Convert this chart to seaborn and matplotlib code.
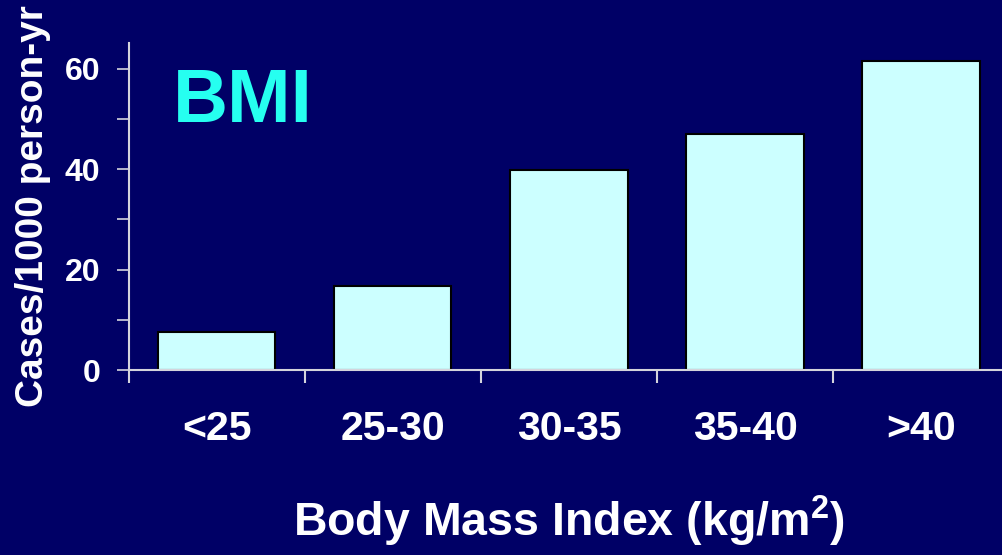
import matplotlib
matplotlib.use("Agg")
import matplotlib.pyplot as plt
from matplotlib.ticker import FixedLocator, MultipleLocator
import numpy as np
import pandas as pd
import seaborn as sns

# Incidence by BMI category
categories = ["<25", "25-30", "30-35", "35-40", ">40"]
rates = [7.5, 16.8, 39.8, 47.0, 61.6]
y_ticks = [0, 20, 40, 60]

navy = "#000066"
bar_fill = "#CCFFFF"
axis_col = "#D4D4DC"

sns.set_theme(style="white")
plt.rcParams["font.family"] = ["Liberation Sans", "DejaVu Sans"]
plt.rcParams["font.weight"] = "bold"
plt.rcParams["mathtext.fontset"] = "custom"
plt.rcParams["mathtext.rm"] = "Liberation Sans:bold"
plt.rcParams["mathtext.bf"] = "Liberation Sans:bold"

df = pd.DataFrame({"bmi": categories, "rate": rates})

fig = plt.figure(figsize=(10.02, 5.55), dpi=100, facecolor=navy)
ax = fig.add_axes([0.1287, 0.3333, 1.007 - 0.1287, 0.5892])
ax.set_facecolor(navy)

sns.barplot(data=df, x="bmi", y="rate", order=categories, color=bar_fill,
            saturation=1, width=0.665, edgecolor="black", linewidth=1.5, ax=ax)

ax.set_xlim(-0.5, len(categories) - 0.5)
ax.set_ylim(0, 65.1)

# spines: only left and bottom, light lines on the dark background
for side in ("top", "right"):
    ax.spines[side].set_visible(False)
for side in ("left", "bottom"):
    ax.spines[side].set_color(axis_col)
    ax.spines[side].set_linewidth(1.5)

# y axis: ticks every 10, labels on the 20s
ax.yaxis.set_major_locator(FixedLocator(y_ticks))
ax.yaxis.set_minor_locator(MultipleLocator(10))
ax.set_yticklabels([str(t) for t in y_ticks])
ax.tick_params(axis="y", which="both", direction="out", length=8.6, width=1.2,
               color=axis_col, left=True)
ax.tick_params(axis="y", which="major", labelsize=23, labelcolor="white", pad=12)

# x axis: tick marks at the category boundaries, labels centred on bars
ax.xaxis.set_minor_locator(FixedLocator(np.arange(-0.5, len(categories), 1.0)))
ax.tick_params(axis="x", which="minor", direction="out", length=9.4, width=1.5,
               color=axis_col, bottom=True)
ax.tick_params(axis="x", which="major", length=0, labelsize=29.5,
               labelcolor="white", pad=29)
for lab in ax.get_xticklabels() + ax.get_yticklabels():
    lab.set_fontweight("bold")

ax.set_ylabel("Cases/1000 person-yr", fontsize=28, fontweight="bold",
              color="white", labelpad=10)
ax.set_xlabel(r"Body Mass Index (kg/m$^{\mathbf{2}}$)", fontsize=33.5,
              fontweight="bold", color="white", labelpad=33)

ax.text(0.05, 0.757, "BMI", transform=ax.transAxes, fontsize=55,
        fontweight="bold", color="#26FFF0", ha="left", va="baseline")

fig.savefig("out.png", dpi=100, facecolor=navy)
